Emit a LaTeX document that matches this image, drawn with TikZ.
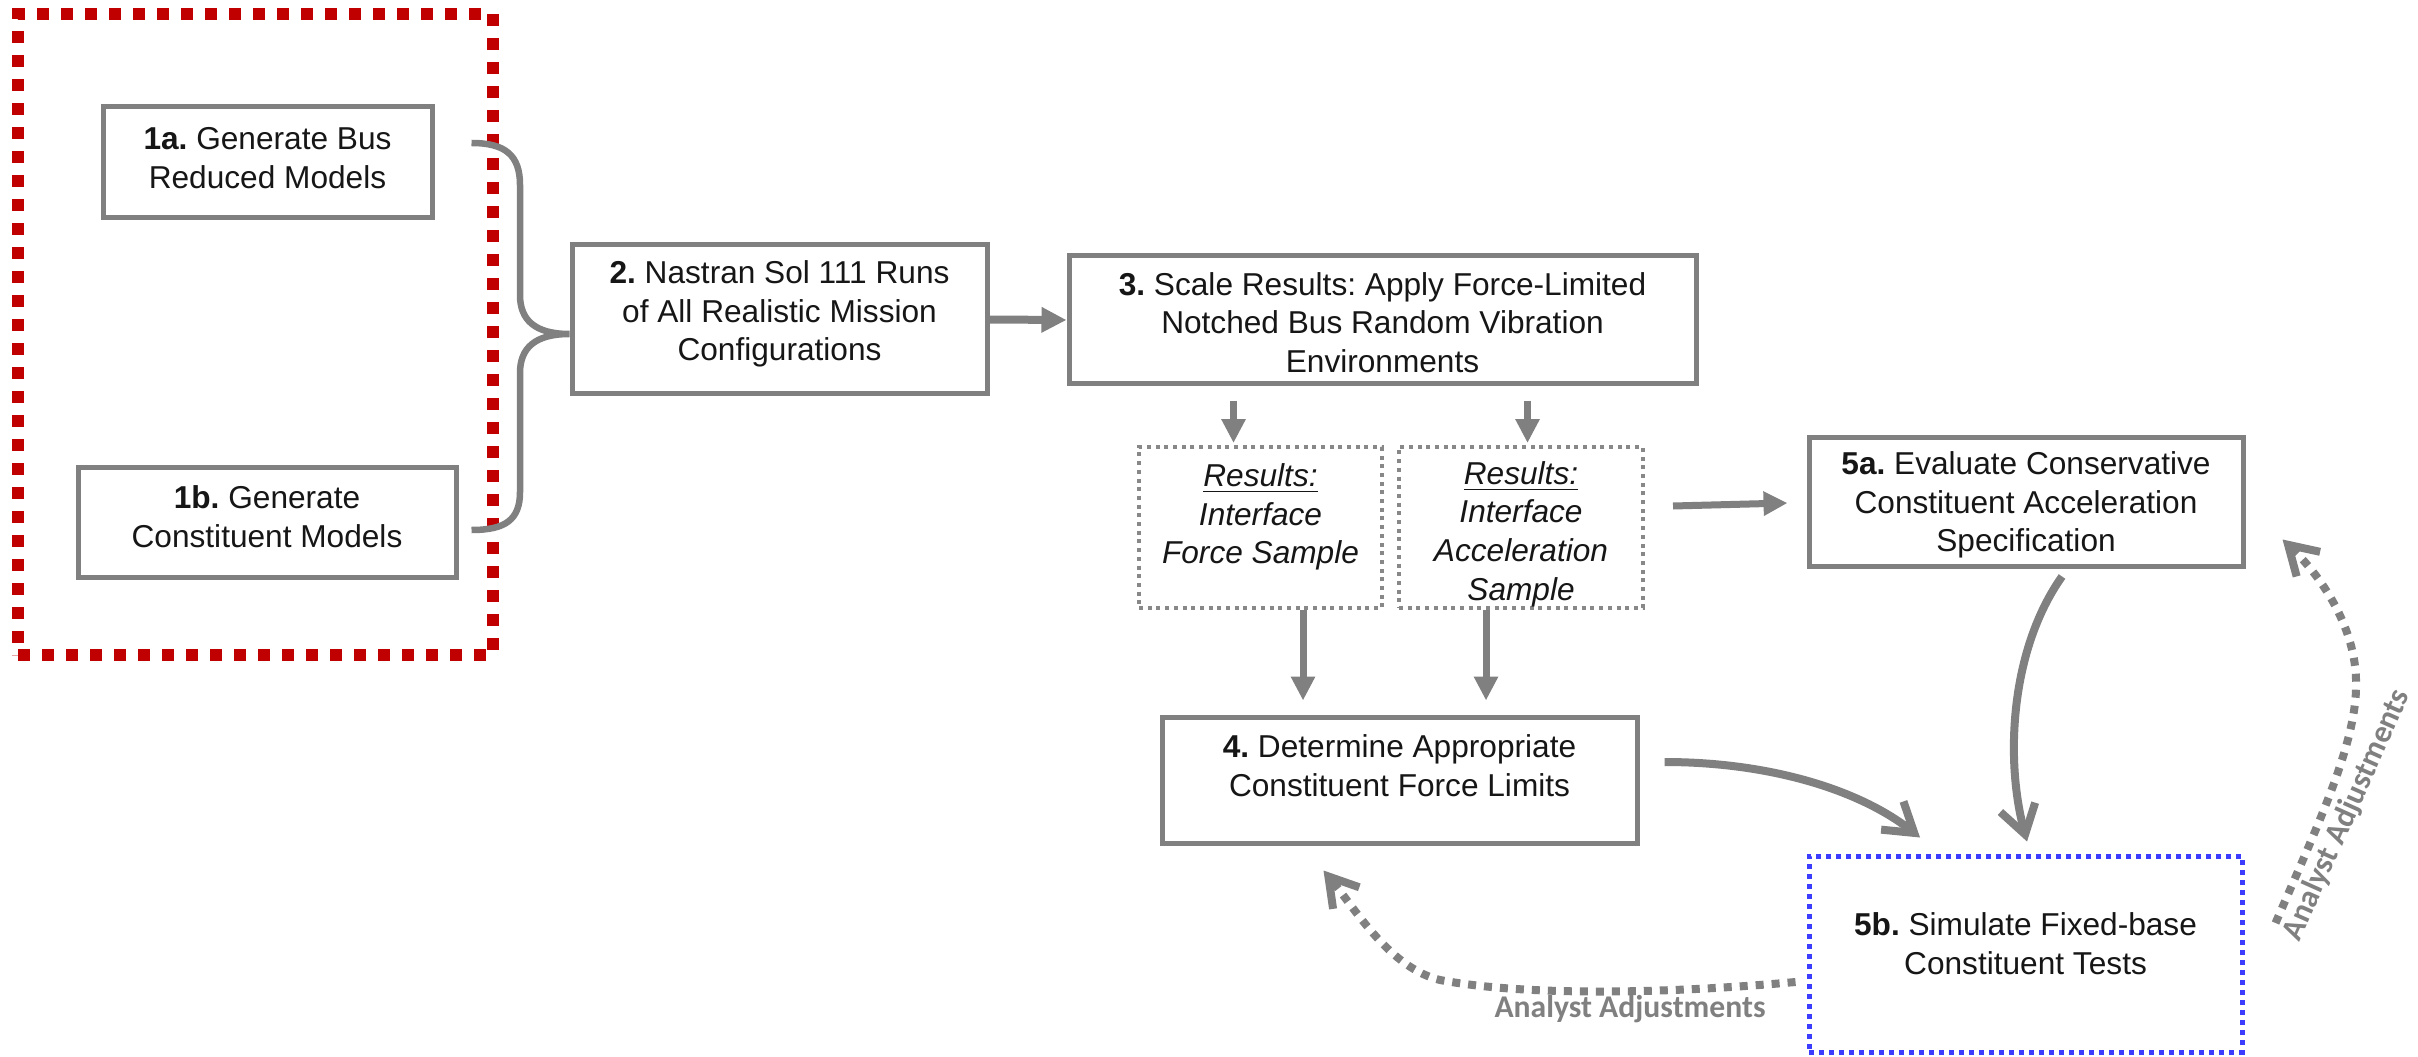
\documentclass[tikz,border=0pt]{standalone}
\usepackage{fontspec}
\setmainfont{Liberation Sans}
\newfontfamily\calibfont{Carlito}
\usetikzlibrary{arrows.meta,calc}
\frenchspacing

\definecolor{boxgray}{RGB}{128,128,128}
\definecolor{arrgray}{RGB}{128,128,128}
\definecolor{dotgray}{RGB}{136,136,136}
\definecolor{groupred}{RGB}{192,0,0}
\definecolor{testblue}{RGB}{60,60,255}
\definecolor{ink}{RGB}{22,22,22}

\tikzset{
  box/.style={draw=boxgray, line width=0.5mm, fill=white, inner sep=0pt},
  resbox/.style={draw=dotgray, line width=0.4mm, dash pattern=on 0.4mm off 0.47mm, fill=white, inner sep=0pt},
  testbox/.style={draw=testblue, line width=0.5mm, dash pattern=on 0.5mm off 0.5mm, fill=white, inner sep=0pt},
  groupbox/.style={draw=groupred, line width=1.2mm, dash pattern=on 1.2mm off 1.2mm, inner sep=0pt},
  txt/.style={align=center, text=ink, inner sep=0pt, font=\fontsize{9}{11}\selectfont},
  itxt/.style={txt, font=\fontsize{9}{11}\selectfont\itshape},
  note/.style={text=arrgray, inner sep=0pt, font=\calibfont\bfseries\fontsize{9}{11}\selectfont},
  arr/.style={draw=arrgray, line width=0.7mm, -{Triangle[length=2.4mm, width=2.3mm]}},
  bigarr/.style={draw=arrgray, line width=0.8mm, -{Triangle[length=2.5mm, width=2.4mm]}},
  carr/.style={draw=arrgray, line width=0.8mm, -{Straight Barb[length=2.8mm, width=3.6mm]}},
  dotarr/.style={draw=arrgray, line width=0.8mm, dash pattern=on 0.8mm off 0.8mm,
                 -{Straight Barb[length=2.8mm, width=3.4mm]}},
  brace/.style={draw=arrgray, line width=0.65mm}
}

\begin{document}
\begin{tikzpicture}[x=0.1mm, y=-0.1mm]
  \fill[white] (0,0) rectangle (2418,1056);
  \useasboundingbox (0,0) rectangle (2418,1056);

  % group of model generation steps
  \node[groupbox, minimum width=47.5mm, minimum height=64.1mm] (grp) at (255.5,334.5) {};

  % boxes
  \node[box, minimum width=32.9mm, minimum height=11.1mm] (n1a) at (267.5,162.5) {};
  \node[txt] (n1at) at (267.5,158) {\textbf{1a.} Generate Bus\\Reduced Models};

  \node[box, minimum width=37.8mm, minimum height=11.0mm] (n1b) at (267,522) {};
  \node[txt] (n1bt) at (267,516.5) {\textbf{1b.} Generate\\Constituent Models};

  \node[box, minimum width=41.5mm, minimum height=14.9mm] (n2) at (779.5,319.5) {};
  \node[txt] (n2t) at (779.5,314) {\textbf{2.} Nastran Sol 111 Runs\\of All Realistic Mission\\Configurations};

  \node[box, minimum width=62.7mm, minimum height=12.8mm] (n3) at (1382.5,320) {};
  \node[txt] (n3t) at (1382.5,322.5) {\textbf{3.} Scale Results: Apply Force-Limited\\Notched Bus Random Vibration\\Environments};

  \node[resbox, minimum width=24.3mm, minimum height=16.1mm] (nF) at (1260.5,527.5) {};
  \node[itxt] (nFt) at (1260.5,517) {\underline{Results:}\\Interface\\Force Sample};

  \node[resbox, minimum width=24.4mm, minimum height=16.1mm] (nA) at (1521,527.5) {};
  \node[itxt] (nAt) at (1521,534) {\underline{Results:}\\Interface\\Acceleration\\Sample};

  \node[box, minimum width=47.5mm, minimum height=12.6mm] (n4) at (1399.5,780) {};
  \node[txt] (n4t) at (1399.5,766) {\textbf{4.} Determine Appropriate\\Constituent Force Limits};

  \node[box, minimum width=43.4mm, minimum height=12.9mm] (n5a) at (2026,501.5) {};
  \node[txt] (n5at) at (2026,505) {\textbf{5a.} Evaluate Conservative\\Constituent Acceleration\\Specification};

  \node[testbox, minimum width=43.3mm, minimum height=19.6mm] (n5b) at (2025.5,954) {};
  \node[txt] (n5bt) at (2025.5,944) {\textbf{5b.} Simulate Fixed-base\\Constituent Tests};

  % brace joining 1a and 1b into step 2
  \coordinate (bs) at ($(n1a.east)+(37,-19.5)$);
  \coordinate (be) at ($(n1b.east)+(13,8)$);
  \coordinate (bt) at ($(n2.west)+(0,14.5)$);
  \draw[brace] (bs) .. controls (505,143) and (520,155) .. (520,185)
               -- (520,295) .. controls (520,320) and (535,334) .. (bt)
               .. controls (535,334) and (520,348) .. (520,373)
               -- (520,492) .. controls (520,520) and (505,530) .. (be);

  % 2 -> 3
  \draw[bigarr] (n2.east) -- (n3.west);

  % 3 -> result samples
  \coordinate (s3f) at ($(n3.south west)+(167,14)$);
  \coordinate (s3a) at ($(n3.south west)+(461,14)$);
  \draw[arr] (s3f) -- ($(s3f |- nF.north)+(0,-2)$);
  \draw[arr] (s3a) -- ($(s3a |- nA.north)+(0,-2)$);

  % result samples -> 4
  \coordinate (sf4) at ($(nF.south)+(42.5,0)$);
  \coordinate (sa4) at ($(nA.south)+(-35,0)$);
  \draw[arr] (sf4) -- ($(sf4 |- n4.north)+(0,-14)$);
  \draw[arr] (sa4) -- ($(sa4 |- n4.north)+(0,-14)$);

  % acceleration sample -> 5a
  \draw[arr] ($(nA.east)+(28,-21.5)$) -- ($(n5a.west)+(-19,1.5)$);

  % 4 -> 5b and 5a -> 5b
  \draw[carr] ($(n4.east)+(25,-18)$) .. controls (1770,762) and (1860,790) .. ($(n5b.north)+(-105.5,-16)$);
  \draw[carr] ($(n5a.south)+(36,8)$) .. controls (2010,650) and (2005,760) .. ($(n5b.north)+(1.5,-12)$);

  % analyst feedback loops
  \draw[dotarr] ($(n5b.west)+(-11,28)$) .. controls (1650,995) and (1520,995) .. (1440,980)
                .. controls (1390,968) and (1356,910) .. ($(n4.south west)+(164,25)$);
  \node[note] (fb4) at (1630,1009) {Analyst Adjustments};

  \draw[dotarr] ($(n5b.east)+(31,-31)$) .. controls (2320,820) and (2358,740) .. (2356,680)
                .. controls (2355,630) and (2325,580) .. ($(n5a.south east)+(37,-29)$);
  \node[note, rotate=66] (fb5a) at (2347,815) {Analyst Adjustments};
\end{tikzpicture}
\end{document}
